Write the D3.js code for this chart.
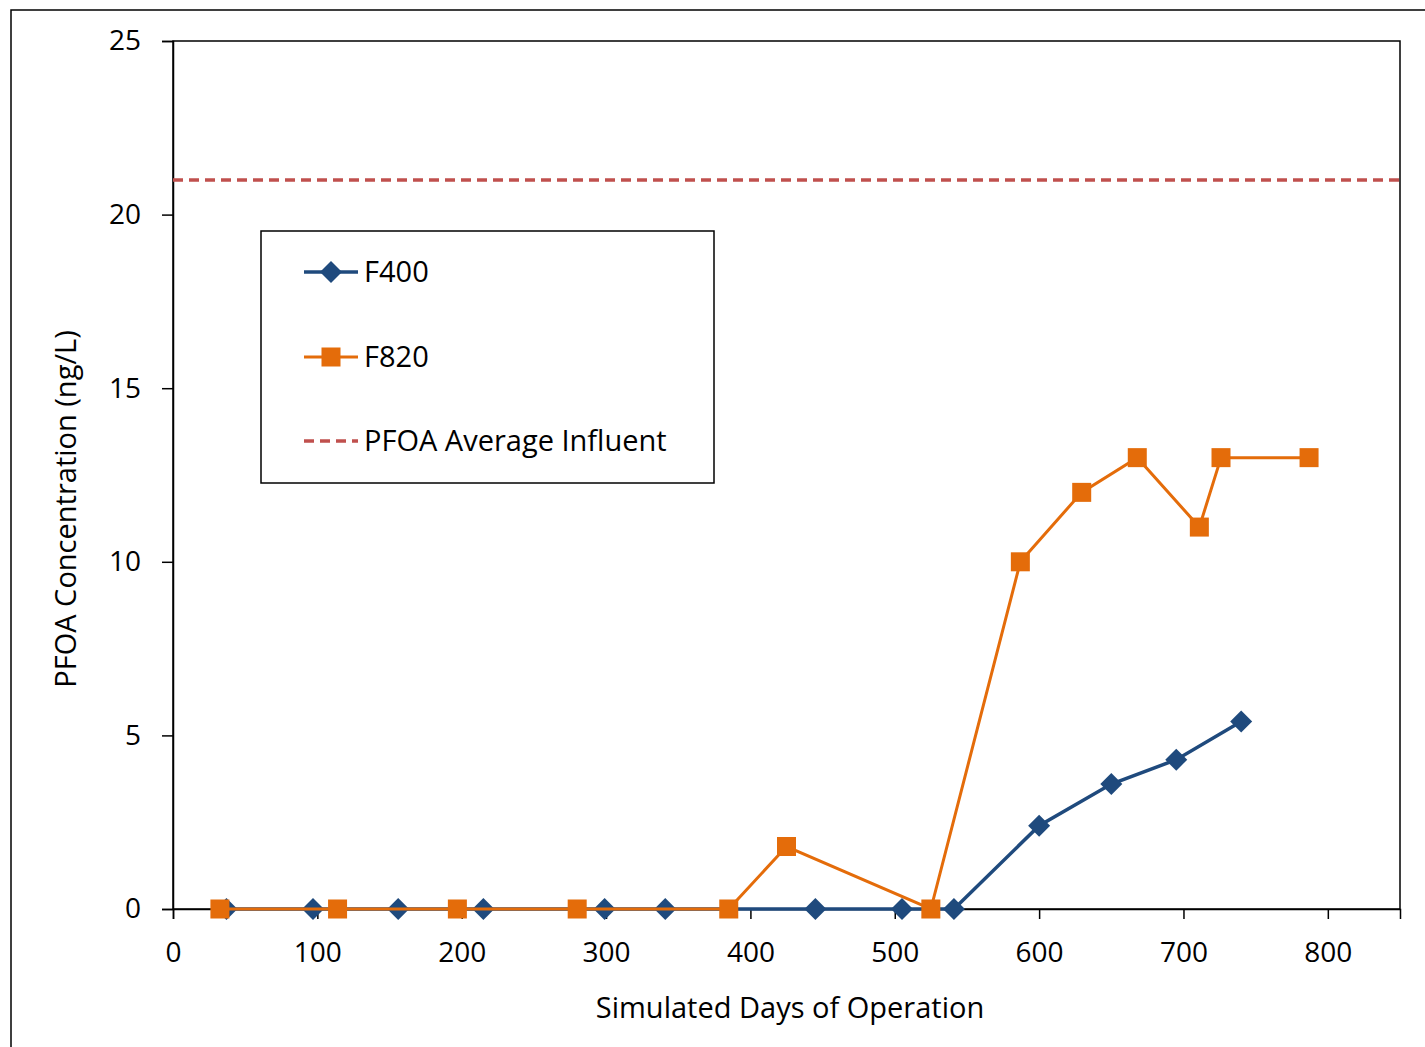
<!DOCTYPE html>
<html><head><meta charset="utf-8">
<script src="https://cdn.jsdelivr.net/npm/d3@7"></script>
<style>body{margin:0;background:#fff}svg{display:block}text{font-family:"Open Sans",sans-serif;fill:#000}</style>
</head><body>
<svg id="c" width="1425" height="1047"></svg>
<script>
const f400Days = [37, 97, 156, 215, 299, 341, 445, 505, 541, 600, 650, 695, 740];
const f400Vals = [0, 0, 0, 0, 0, 0, 0, 0, 0, 2.4, 3.6, 4.3, 5.4];
const f820Days = [32.5, 114, 197, 280, 385, 425, 525, 587, 629.5, 668, 711, 726, 787];
const f820Vals = [0, 0, 0, 0, 0, 1.8, 0, 10, 12, 13, 11, 13, 13];
const influentAvg = 21;
const xTicks = [0, 100, 200, 300, 400, 500, 600, 700, 800];
const yTicks = [0, 5, 10, 15, 20, 25];
const seriesNames = ["F400", "F820", "PFOA Average Influent"];

const FONT = "'Open Sans',sans-serif";
const FS_TICK = 28, FS_TITLE = 29;
const svg = d3.select("#c");
const L = 173, R = 1400, T = 41, B = 909;
const x = d3.scaleLinear().domain([0, 850]).range([L, R]);
const y = d3.scaleLinear().domain([0, 25]).range([B, T]);

// outer frame
svg.append("rect").attr("x", 11).attr("y", 10).attr("width", 1440).attr("height", 1060)
  .attr("fill", "none").attr("stroke", "#000").attr("stroke-width", 1.5);

// plot area frame
svg.append("rect").attr("x", L).attr("y", T).attr("width", R - L).attr("height", B - T)
  .attr("fill", "none").attr("stroke", "#000").attr("stroke-width", 1.5);

const xAxis = svg.append("g").attr("transform", `translate(0,${B})`)
  .call(d3.axisBottom(x).tickValues(xTicks).tickSize(10).tickPadding(23).tickFormat(d3.format("d")));
xAxis.select(".domain").attr("stroke", "#000").attr("stroke-width", 1.5);
xAxis.selectAll(".tick line").attr("stroke", "#000").attr("stroke-width", 1.5);
xAxis.selectAll("text").attr("font-size", FS_TICK).attr("font-family", FONT).attr("fill", "#000");

const yAxis = svg.append("g").attr("transform", `translate(${L},0)`)
  .call(d3.axisLeft(y).tickValues(yTicks).tickSize(11).tickPadding(21).tickFormat(d3.format("d")));
yAxis.select(".domain").attr("stroke", "#000").attr("stroke-width", 1.5);
yAxis.selectAll(".tick line").attr("stroke", "#000").attr("stroke-width", 1.5);
yAxis.selectAll("text").attr("font-size", FS_TICK).attr("font-family", FONT).attr("fill", "#000");

// axis titles
svg.append("text").attr("x", 790).attr("y", 1018).attr("text-anchor", "middle")
  .attr("font-size", FS_TITLE).text("Simulated Days of Operation");
svg.append("text").attr("transform", `translate(76,509) rotate(-90)`)
  .attr("text-anchor", "middle").attr("font-size", FS_TITLE).text("PFOA Concentration (ng/L)");

// influent line
svg.append("line").attr("x1", L).attr("x2", R).attr("y1", y(influentAvg)).attr("y2", y(influentAvg))
  .attr("stroke", "#C0504D").attr("stroke-width", 3.5).attr("stroke-dasharray", "10,6");

const blue = "#1F4A7D", orange = "#E46C0A";
const line = d3.line().x(d => x(d[0])).y(d => y(d[1]));
const f400 = f400Days.map((d, i) => [d, f400Vals[i]]);
const f820 = f820Days.map((d, i) => [d, f820Vals[i]]);

function diamondPath(cx, cy, r) { return `M${cx},${cy - r}L${cx + r},${cy}L${cx},${cy + r}L${cx - r},${cy}Z`; }

svg.append("path").datum(f400).attr("d", line).attr("fill", "none").attr("stroke", blue).attr("stroke-width", 3.5);
svg.append("g").selectAll("path").data(f400).join("path")
  .attr("d", d => diamondPath(x(d[0]), y(d[1]), 11)).attr("fill", blue);

svg.append("path").datum(f820).attr("d", line).attr("fill", "none").attr("stroke", orange).attr("stroke-width", 3);
svg.append("g").selectAll("rect").data(f820).join("rect")
  .attr("x", d => x(d[0]) - 9.5).attr("y", d => y(d[1]) - 9.5).attr("width", 19).attr("height", 19).attr("fill", orange);

// legend
const lg = svg.append("g");
lg.append("rect").attr("x", 261).attr("y", 231).attr("width", 453).attr("height", 252)
  .attr("fill", "#fff").attr("stroke", "#000").attr("stroke-width", 1.5);
const ly = [272, 357, 441];
lg.append("line").attr("x1", 304).attr("x2", 358).attr("y1", ly[0]).attr("y2", ly[0]).attr("stroke", blue).attr("stroke-width", 3.5);
lg.append("path").attr("d", diamondPath(331, ly[0], 11)).attr("fill", blue);
lg.append("line").attr("x1", 304).attr("x2", 358).attr("y1", ly[1]).attr("y2", ly[1]).attr("stroke", orange).attr("stroke-width", 3);
lg.append("rect").attr("x", 331 - 9.5).attr("y", ly[1] - 9.5).attr("width", 19).attr("height", 19).attr("fill", orange);
lg.append("line").attr("x1", 304).attr("x2", 358).attr("y1", ly[2]).attr("y2", ly[2]).attr("stroke", "#C0504D").attr("stroke-width", 3.5).attr("stroke-dasharray", "10,6");
seriesNames.forEach((n, i) => {
  lg.append("text").attr("x", 364).attr("y", ly[i] + 10).attr("font-size", FS_TITLE).attr("font-family", FONT).text(n);
});
</script>
</body></html>
